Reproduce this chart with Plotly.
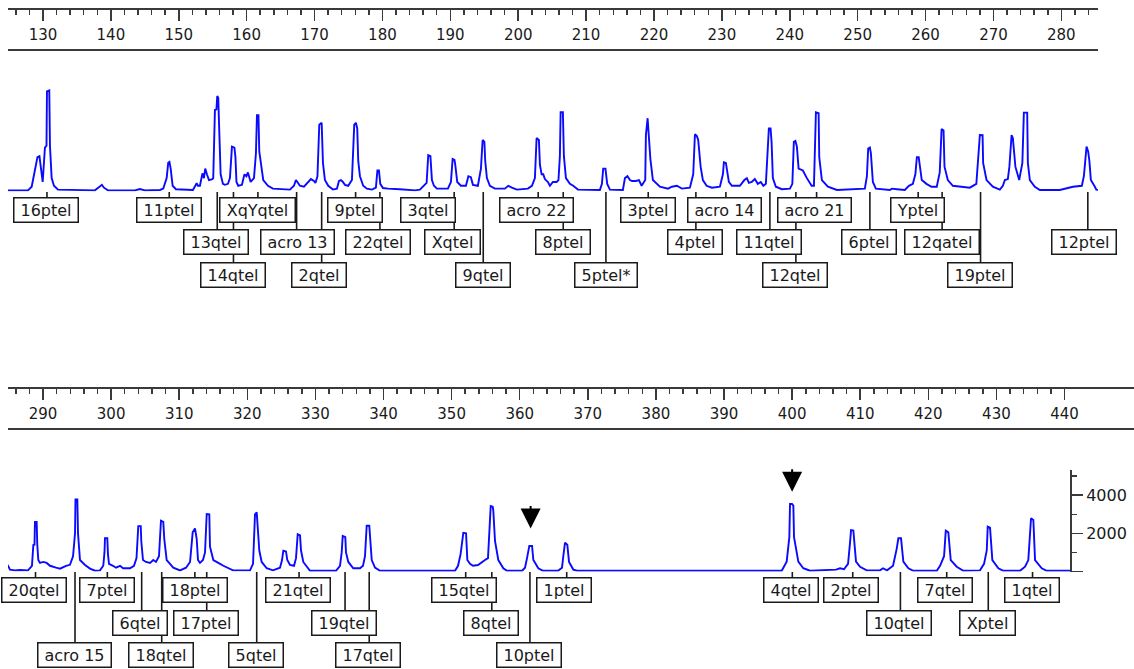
import plotly.graph_objects as go

W, H = 1134, 669

# ---------------- data ----------------
# electropherogram trace (fragment size in bp, signal in RFU)
trace_panel1 = [
    (124.85, 60), (127.79, 60), (128.34, 250), (128.97, 1300), (129.19, 1800), (129.48, 1850), (129.63, 1400),
    (129.96, 500), (130.29, 2300), (130.52, 2400), (130.59, 5250), (130.93, 5300), (131.03, 2400), (131.28, 700),
    (131.62, 300), (132.21, 100), (137.66, 60), (138.39, 250), (138.69, 350), (138.98, 200), (139.57, 60),
    (143.55, 60), (144.28, 130), (145.02, 60), (147.23, 80), (147.72, 150), (148.22, 700), (148.45, 1500),
    (148.63, 1550), (148.81, 1200), (149.1, 300), (149.59, 120), (152.09, 80), (152.64, 430), (152.83, 300),
    (153.12, 300), (153.49, 950), (153.71, 700), (153.9, 1200), (154.15, 900), (154.45, 600), (154.96, 650),
    (155.08, 700), (155.33, 4270), (155.55, 4300), (155.67, 5000), (155.82, 4900), (155.92, 3700), (156.17, 900),
    (156.51, 400), (156.8, 350), (157.25, 400), (157.54, 700), (157.84, 2350), (158.2, 2300), (158.35, 1800),
    (158.5, 500), (158.76, 300), (159.31, 350), (159.68, 900), (159.97, 800), (160.19, 1000), (160.59, 500),
    (161.08, 700), (161.37, 2000), (161.52, 4000), (161.74, 4000), (161.86, 2100), (162.11, 1400), (162.45, 600),
    (163.14, 300), (163.87, 150), (166.38, 100), (166.97, 300), (167.26, 600), (167.56, 450), (167.85, 300),
    (168.44, 250), (169.03, 450), (169.47, 650), (169.91, 550), (170.13, 450), (170.43, 800), (170.7, 3500),
    (171.05, 3600), (171.13, 2900), (171.24, 1500), (171.53, 600), (172.02, 300), (172.71, 100), (173.3, 150),
    (173.6, 550), (173.89, 600), (174.18, 500), (174.48, 350), (174.96, 300), (175.51, 600), (175.85, 3500),
    (176.1, 3600), (176.29, 3300), (176.44, 1600), (176.69, 800), (177.17, 300), (177.72, 150), (178.46, 100),
    (179.04, 200), (179.26, 1100), (179.49, 1100), (179.68, 400), (180.08, 180), (180.81, 150), (182.58, 120),
    (184.79, 60), (185.52, 100), (186.51, 450), (186.75, 1900), (187.07, 1850), (187.29, 600), (187.59, 300),
    (188.03, 150), (189.65, 150), (190.09, 500), (190.34, 1700), (190.61, 1650), (190.73, 1400), (191.02, 500),
    (191.56, 300), (192.3, 300), (192.66, 800), (193.03, 750), (193.33, 350), (194.06, 300), (194.51, 1200),
    (194.76, 2700), (195.02, 2600), (195.14, 1600), (195.39, 700), (195.83, 300), (196.57, 150), (198.04, 150),
    (198.53, 300), (199.07, 200), (199.81, 100), (201.43, 150), (202.02, 300), (202.46, 700), (202.71, 2800),
    (203.05, 2700), (203.2, 1400), (203.45, 900), (203.69, 900), (203.93, 650), (204.38, 500), (204.67, 300),
    (205.11, 500), (205.66, 500), (205.93, 600), (206.14, 1850), (206.25, 4150), (206.58, 4150), (206.73, 1850),
    (207.03, 700), (207.62, 400), (208.1, 300), (208.8, 100), (212.03, 80), (212.33, 400), (212.52, 1200),
    (212.85, 1200), (213.11, 400), (213.51, 100), (215.42, 80), (215.72, 700), (216.09, 800), (216.46, 600),
    (216.76, 550), (217.35, 550), (217.79, 600), (218.18, 300), (218.71, 600), (218.81, 2960), (219.06, 3840),
    (219.24, 2900), (219.47, 1700), (219.84, 600), (220.87, 250), (222.05, 150), (222.64, 250), (223.37, 300),
    (224.11, 150), (225.29, 200), (225.78, 900), (226.03, 3000), (226.32, 2900), (226.51, 2700), (226.87, 1300),
    (227.2, 600), (227.75, 300), (228.53, 200), (229.71, 250), (230.15, 900), (230.3, 1530), (230.59, 1500),
    (230.74, 1150), (231.03, 500), (231.47, 300), (232.65, 300), (233.31, 600), (233.68, 700), (233.97, 450),
    (234.4, 500), (234.85, 650), (235.29, 400), (235.73, 500), (236.11, 300), (236.48, 400), (236.77, 2600),
    (236.92, 3300), (237.17, 3300), (237.32, 2600), (237.51, 700), (237.95, 250), (238.84, 120), (240.02, 150),
    (240.38, 400), (240.6, 2600), (240.83, 2650), (241.05, 2350), (241.3, 1200), (241.93, 1100), (242.52, 700),
    (243.22, 300), (243.56, 300), (243.7, 1800), (243.85, 4150), (244.25, 4100), (244.34, 1800), (244.73, 600),
    (245.62, 250), (246.94, 80), (251.06, 150), (251.36, 800), (251.55, 2250), (251.8, 2300), (251.95, 2000),
    (252.24, 500), (252.68, 150), (254.74, 80), (255.04, 150), (255.77, 120), (256.95, 80), (257.54, 300),
    (258.13, 400), (258.5, 900), (258.72, 1800), (258.99, 1800), (259.14, 1300), (259.44, 600), (260.13, 400),
    (260.87, 250), (261.65, 250), (262.09, 1000), (262.36, 3270), (262.65, 3200), (262.79, 1300), (263.28, 600),
    (264.02, 300), (266.52, 200), (267.48, 400), (267.7, 1500), (268.0, 2960), (268.4, 2950), (268.48, 1500),
    (268.98, 600), (269.91, 250), (270.94, 100), (271.39, 300), (271.68, 600), (272.12, 650), (272.35, 1300),
    (272.67, 2960), (272.86, 2800), (273.05, 2200), (273.23, 1300), (273.79, 600), (274.26, 1500), (274.48, 4130),
    (274.97, 4130), (275.07, 1500), (275.36, 600), (276.1, 250), (276.84, 80), (279.78, 80), (281.7, 250),
    (283.02, 300), (283.32, 800), (283.71, 2350), (283.95, 2100), (284.13, 1600), (284.35, 600), (284.94, 250),
]
trace_panel2 = [
    (285.15, 100), (285.89, 60), (286.62, 80), (287.8, 60), (288.38, 300), (288.58, 1390), (288.75, 1400),
    (288.82, 2600), (289.07, 2600), (289.16, 1400), (289.31, 600), (289.56, 450), (290.04, 500), (290.54, 450),
    (291.03, 300), (291.91, 200), (292.5, 150), (293.38, 300), (293.96, 350), (294.41, 800), (294.7, 2000),
    (294.77, 3780), (295.04, 3780), (295.14, 2000), (295.43, 600), (296.17, 340), (296.9, 150), (297.64, 40),
    (298.37, 60), (298.85, 300), (299.03, 1000), (299.1, 1740), (299.44, 1740), (299.54, 900), (299.69, 400),
    (300.28, 300), (300.72, 200), (301.31, 300), (301.75, 170), (302.78, 170), (303.36, 300), (303.73, 700),
    (303.99, 2380), (304.35, 2380), (304.43, 1600), (304.68, 600), (305.12, 500), (305.71, 450), (306.2, 600),
    (306.59, 500), (307.03, 800), (307.32, 2660), (307.66, 2600), (307.81, 1700), (308.16, 600), (308.65, 400),
    (309.13, 200), (310.12, 60), (311.0, 200), (311.59, 500), (311.98, 2050), (312.32, 2260), (312.57, 1700),
    (312.76, 600), (313.05, 450), (313.49, 600), (313.79, 1000), (314.04, 3010), (314.42, 3000), (314.52, 1300),
    (315.01, 600), (315.74, 450), (316.48, 300), (317.9, 60), (320.4, 60), (320.84, 400), (321.03, 1800),
    (321.13, 3000), (321.38, 3100), (321.47, 2500), (321.76, 1100), (322.11, 500), (322.85, 170), (323.77, 60),
    (324.8, 200), (325.1, 600), (325.29, 1090), (325.68, 1050), (325.87, 600), (326.27, 340), (326.86, 300),
    (327.15, 700), (327.4, 1960), (327.74, 1900), (327.89, 1100), (328.22, 500), (329.21, 40), (333.02, 40),
    (333.61, 300), (333.86, 1000), (334.01, 1860), (334.39, 1800), (334.49, 1000), (334.83, 500), (335.56, 170),
    (336.55, 170), (336.99, 300), (337.28, 800), (337.53, 2400), (337.91, 2400), (338.06, 1650), (338.27, 600),
    (338.75, 200), (339.49, 40), (350.5, 40), (350.94, 300), (351.31, 900), (351.72, 2030), (352.12, 2000),
    (352.31, 600), (352.7, 400), (353.14, 300), (353.88, 340), (354.42, 500), (354.9, 600), (355.34, 700),
    (355.64, 2500), (355.74, 3430), (356.03, 3400), (356.12, 3200), (356.37, 1600), (356.86, 600), (357.59, 170),
    (358.13, 40), (360.34, 40), (360.78, 200), (361.07, 700), (361.41, 1340), (361.81, 1340), (362.0, 600),
    (362.73, 170), (363.42, 40), (365.62, 40), (366.21, 200), (366.4, 800), (366.65, 1510), (366.99, 1400),
    (367.24, 500), (367.87, 100), (368.41, 40), (398.47, 40), (399.2, 515), (399.59, 1800), (399.69, 3540),
    (399.98, 3540), (400.18, 3450), (400.28, 1800), (400.91, 515), (401.64, 170), (402.63, 40), (406.45, 100),
    (407.03, 170), (407.62, 120), (408.21, 400), (408.5, 1500), (408.65, 2170), (408.99, 2150), (409.09, 1700),
    (409.38, 515), (409.97, 250), (410.95, 60), (412.91, 60), (413.35, 170), (413.93, 60), (414.82, 300),
    (415.36, 1200), (415.6, 1740), (415.99, 1740), (416.14, 1100), (416.33, 515), (417.07, 170), (417.8, 40),
    (421.24, 40), (421.72, 300), (422.31, 800), (422.56, 2140), (422.94, 2050), (423.04, 1600), (423.29, 600),
    (424.17, 250), (425.14, 40), (427.59, 60), (428.18, 400), (428.58, 1100), (428.72, 2350), (429.06, 2300),
    (429.21, 1500), (429.4, 600), (430.28, 170), (431.01, 40), (433.46, 40), (434.2, 250), (434.68, 600),
    (434.93, 2000), (435.08, 2790), (435.42, 2700), (435.52, 1500), (435.67, 600), (436.65, 170), (437.38, 40),
    (440.95, 40),
]

label_names = ["16ptel", "11ptel", "XqYqtel", "13qtel", "14qtel", "acro 13", "2qtel", "9ptel", "22qtel", "3qtel",
               "Xqtel", "9qtel", "acro 22", "8ptel", "5ptel*", "3ptel", "acro 14", "4ptel", "11qtel", "acro 21",
               "12qtel", "6ptel", "Yptel", "12qatel", "19ptel", "12ptel", "20qtel", "acro 15", "7ptel", "6qtel",
               "18qtel", "18ptel", "17ptel", "5qtel", "21qtel", "19qtel", "17qtel", "15qtel", "8qtel", "10ptel",
               "1ptel", "4qtel", "2ptel", "10qtel", "7qtel", "Xptel", "1qtel"]
label_peak_bp = [130.59, 148.6, 161.66, 155.67, 158.06, 167.36, 171.05, 176.05, 179.63, 186.89,
                 190.57, 194.85, 202.94, 206.63, 212.92, 219.15, 230.59, 226.17, 237.07, 243.95,
                 240.9, 251.8, 258.91, 262.44, 268.1, 283.9, 288.9, 294.7, 299.45, 304.49,
                 307.43, 312.3, 314.04, 321.38, 327.6, 334.35, 337.9, 352.07, 355.9, 361.5,
                 366.9, 400.03, 408.9, 415.9, 422.7, 428.8, 435.3]
label_box_bp = [130.44, 148.63, 161.66, 155.48, 157.98, 167.48, 170.65, 175.95, 179.34, 186.75,
                190.34, 194.8, 202.68, 206.58, 212.96, 219.1, 230.37, 226.02, 237.0, 243.7,
                240.75, 251.68, 258.79, 262.36, 267.95, 283.3, 288.7, 294.65, 299.35, 304.17,
                307.3, 312.27, 313.98, 321.25, 327.5, 334.2, 337.7, 351.87, 355.76, 361.35,
                366.5, 399.9, 408.7, 415.7, 422.5, 428.7, 435.2]
label_row = [0, 0, 0, 1, 2, 1, 2, 0, 1, 0,
             1, 2, 0, 1, 2, 0, 0, 1, 1, 0,
             2, 1, 0, 1, 2, 1, 0, 2, 0, 1,
             2, 0, 1, 2, 0, 1, 2, 0, 1, 2,
             0, 0, 0, 1, 0, 1, 0]

arrow_bp = [361.6, 400.0]
arrow_rfu = [2260, 4180]

top_range = [124.85, 285.4]
bottom_range = [284.86, 450.2]
bottom_major_ticks = list(range(290, 441, 10))
bottom_minor_ticks = list(range(286, 441, 2))
rfu_tick_vals = [0, 2000, 4000]
rfu_tick_text = ["", "2000", "4000"]
rfu_minor_vals = [1000, 3000, 5000]

# ---------------- style ----------------
FONT = "DejaVu Sans"
INK = "#1a1a1a"
RULER = "#3a3a3a"
BLUE = "#0a0aff"
ROW_Y = [18, 50.5, 83]
CHAR_W = {"0": .636, "1": .636, "2": .636, "3": .636, "4": .636, "5": .636, "6": .636, "7": .636,
          "8": .636, "9": .636, "p": .635, "t": .392, "e": .615, "l": .278, "q": .635, "a": .613,
          "c": .550, "r": .411, "o": .612, " ": .318, "X": .685, "Y": .611, "*": .5}
LABEL_FS = 16


def pyp(px_from_top):
    return 1 - px_from_top / H


def text_w(s):
    return sum(CHAR_W.get(ch, 0.6) for ch in s) * LABEL_FS


fig = go.Figure()

# empty traces so that each ruler subplot exists and its x axis anchors there
fig.add_trace(go.Scatter(x=[], y=[], xaxis="x", yaxis="y", hoverinfo="skip", showlegend=False))
fig.add_trace(go.Scatter(x=[], y=[], xaxis="x2", yaxis="y4", hoverinfo="skip", showlegend=False))

panels = [
    dict(x="x", ysig="y2", ylab="y3", rng=top_range),
    dict(x="x2", ysig="y5", ylab="y6", rng=bottom_range),
]

sig_x = [p[0] for p in trace_panel1 + trace_panel2]
sig_y = [p[1] for p in trace_panel1 + trace_panel2]

annotations = []
for p in panels:
    cx, cy = [], []
    for pk, r in zip(label_peak_bp, label_row):
        cx += [pk, pk, None]
        cy += [0, ROW_Y[r], None]
    fig.add_trace(go.Scatter(x=cx, y=cy, xaxis=p["x"], yaxis=p["ylab"], mode="lines",
                             line=dict(color=INK, width=1.6), hoverinfo="skip", showlegend=False))
    fig.add_trace(go.Scatter(x=sig_x, y=sig_y, xaxis=p["x"], yaxis=p["ysig"], mode="lines",
                             line=dict(color=BLUE, width=1.9), hoverinfo="skip", showlegend=False))
    lo, hi = p["rng"]
    for name, bx, r in zip(label_names, label_box_bp, label_row):
        if not (lo <= bx <= hi):
            continue
        annotations.append(dict(
            x=bx, y=ROW_Y[r], xref=p["x"], yref=p["ylab"], text=name, showarrow=False,
            xanchor="center", yanchor="middle", align="center", valign="middle",
            font=dict(family=FONT, size=LABEL_FS, color=INK),
            bgcolor="white", bordercolor=INK, borderwidth=1.5, borderpad=2,
            width=round(text_w(name) + 8), height=19))

for ab, ar in zip(arrow_bp, arrow_rfu):
    annotations.append(dict(
        x=ab, y=ar, xref="x2", yref="y5", text="", showarrow=True, ax=0, ay=-24,
        arrowhead=2, arrowsize=2, arrowwidth=2, arrowcolor="black"))

ruler_common = dict(
    side="top", showline=True, mirror=True, linewidth=2, linecolor=RULER,
    ticks="inside", ticklen=11, tickwidth=1.5, tickcolor=RULER,
    ticklabelposition="inside", ticklabelstandoff=8,
    tickfont=dict(family=FONT, size=15, color=INK),
    showgrid=False, zeroline=False, automargin=False, fixedrange=True,
)

hidden_y = dict(visible=False, showgrid=False, zeroline=False, fixedrange=True)

fig.update_layout(
    width=W, height=H, margin=dict(l=0, r=0, t=0, b=0),
    paper_bgcolor="white", plot_bgcolor="white", showlegend=False, hovermode=False,
    xaxis=dict(domain=[8 / W, 1098 / W], range=top_range, anchor="y",
               tickmode="linear", tick0=0, dtick=10,
               minor=dict(ticks="inside", ticklen=5, tickwidth=1.5, tickcolor=RULER,
                          tick0=0, dtick=2, showgrid=False),
               **ruler_common),
    yaxis=dict(domain=[pyp(49), pyp(10)], range=[0, 1], anchor="x", **hidden_y),
    yaxis2=dict(domain=[pyp(191.5), pyp(84.6)], range=[0, 5600], anchor="x", **hidden_y),
    yaxis3=dict(domain=[pyp(292), pyp(192)], range=[100, 0], anchor="x", **hidden_y),
    xaxis2=dict(domain=[8 / W, 1.0], range=bottom_range, anchor="y4",
                tickmode="array", tickvals=bottom_major_ticks,
                ticktext=[str(v) for v in bottom_major_ticks],
                minor=dict(ticks="inside", ticklen=5, tickwidth=1.5, tickcolor=RULER,
                           tickmode="array", tickvals=bottom_minor_ticks, showgrid=False),
                **ruler_common),
    yaxis4=dict(domain=[pyp(428), pyp(389)], range=[0, 1], anchor="x2", **hidden_y),
    yaxis5=dict(domain=[pyp(571.5), pyp(470)], range=[0, 5320], anchor="free",
                position=1071 / W, side="right", showline=True, linewidth=2, linecolor=RULER,
                ticks="outside", ticklen=11, tickwidth=1.5, tickcolor=RULER,
                tickmode="array", tickvals=rfu_tick_vals, ticktext=rfu_tick_text,
                minor=dict(ticks="outside", ticklen=5, tickwidth=1.5, tickcolor=RULER,
                           tickmode="array", tickvals=rfu_minor_vals, showgrid=False),
                tickfont=dict(family=FONT, size=16, color=INK), ticklabelstandoff=0,
                showgrid=False, zeroline=False, automargin=False, fixedrange=True),
    yaxis6=dict(domain=[0, pyp(572)], range=[97, 0], anchor="x2", **hidden_y),
    annotations=annotations,
)

fig.write_html("out.html", config={"displayModeBar": False, "staticPlot": True},
               post_script="document.body.style.margin='0';document.body.style.overflow='hidden';")
